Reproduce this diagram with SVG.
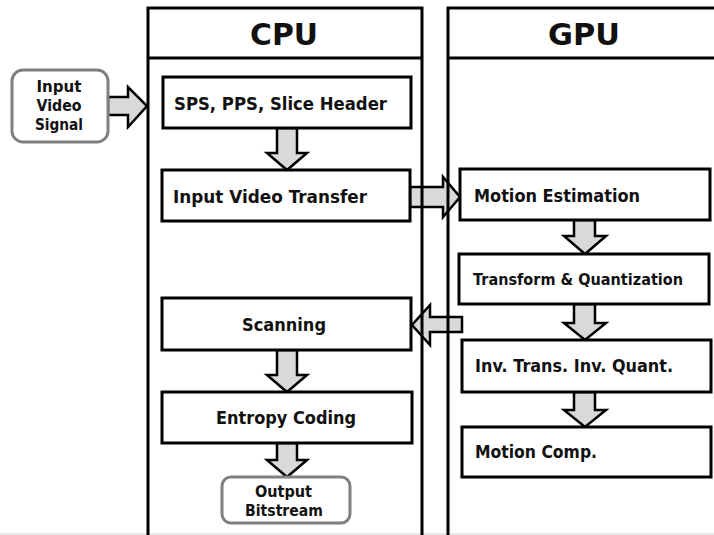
<svg xmlns="http://www.w3.org/2000/svg" width="714" height="535" viewBox="0 0 714 535">
<style>
.bg{fill:#ffffff}
.panel{fill:none;stroke:#000;stroke-width:3}
.box rect{fill:#fff;stroke:#000;stroke-width:3}
.term rect{fill:#fff;stroke:#808080;stroke-width:3}
.arrow{fill:#d9d9d9;stroke:#000;stroke-width:2.5;stroke-linejoin:miter}
text{font-family:"DejaVu Sans","Liberation Sans",sans-serif;font-weight:bold;fill:#111}
.t16{font-size:17px}
.t14{font-size:15px}
.t15{font-size:15px}
.title{font-size:31px;text-anchor:middle}
.mid{text-anchor:middle}
</style>
<rect class="bg" x="0" y="0" width="714" height="535"/>
<line x1="0" y1="534" x2="714" y2="534" stroke="#d0d0d0" stroke-width="1"/>

<g id="connectors">
<polygon class="arrow" points="108,97 128,97 128,87 147,106 128,127 128,115 108,115"/>
<polygon class="arrow" points="277,128 297,128 297,153 307,153 287,170 267,153 277,153"/>
<polygon class="arrow" points="410,187 443,187 443,177 460,197 443,217 443,207 410,207"/>
<polygon class="arrow" points="574,220 595,220 595,236 606,236 585,254 564,236 574,236"/>
<polygon class="arrow" points="574,304 595,304 595,323 606,323 585,340 564,323 574,323"/>
<polygon class="arrow" points="574,392 595,392 595,410 606,410 585,427 564,410 574,410"/>
<polygon class="arrow" points="462,317 430,317 430,305 412,325 430,345 430,332 462,332"/>
<polygon class="arrow" points="277,350 297,350 297,375 307,375 287,392 267,375 277,375"/>
<polygon class="arrow" points="277,443 297,443 297,460 307,460 287,477 267,460 277,460"/>
</g>

<g id="cpu">
<path class="panel" d="M148,540 V8 H422 V540 M148,58 H422"/>
<text class="title" x="284" y="45" textLength="68" lengthAdjust="spacingAndGlyphs">CPU</text>
</g>
<g id="gpu">
<path class="panel" d="M448,540 V8 H720 M448,58 H720"/>
<text class="title" x="584" y="45" textLength="72" lengthAdjust="spacingAndGlyphs">GPU</text>
</g>

<g id="input" class="term">
<rect x="12" y="70" width="96" height="72" rx="11"/>
<text class="t14 mid" x="59" y="92" textLength="45" lengthAdjust="spacingAndGlyphs">Input</text>
<text class="t14 mid" x="59" y="111" textLength="45" lengthAdjust="spacingAndGlyphs">Video</text>
<text class="t14 mid" x="59" y="130" textLength="48" lengthAdjust="spacingAndGlyphs">Signal</text>
</g>

<g id="sps" class="box">
<rect x="163" y="77" width="248" height="51"/>
<text class="t16" x="174" y="110" textLength="213" lengthAdjust="spacingAndGlyphs">SPS, PPS, Slice Header</text>
</g>
<g id="ivt" class="box">
<rect x="162" y="170" width="248" height="51"/>
<text class="t16" x="173" y="203" textLength="194" lengthAdjust="spacingAndGlyphs">Input Video Transfer</text>
</g>
<g id="scanning" class="box">
<rect x="162" y="298" width="249" height="52"/>
<text class="t16" x="242" y="331" textLength="84" lengthAdjust="spacingAndGlyphs">Scanning</text>
</g>
<g id="entropy" class="box">
<rect x="162" y="392" width="250" height="51"/>
<text class="t16" x="216" y="424" textLength="140" lengthAdjust="spacingAndGlyphs">Entropy Coding</text>
</g>
<g id="output" class="term">
<rect x="222" y="477" width="128" height="46" rx="9"/>
<text class="t14" x="255" y="497" textLength="57" lengthAdjust="spacingAndGlyphs">Output</text>
<text class="t14" x="245" y="516" textLength="78" lengthAdjust="spacingAndGlyphs">Bitstream</text>
</g>

<g id="me" class="box">
<rect x="460" y="169" width="250" height="51"/>
<text class="t16" x="474" y="202" textLength="166" lengthAdjust="spacingAndGlyphs">Motion Estimation</text>
</g>
<g id="tq" class="box">
<rect x="459" y="254" width="250" height="50"/>
<text class="t15" x="473" y="285" textLength="210" lengthAdjust="spacingAndGlyphs">Transform  &amp; Quantization</text>
</g>
<g id="inv" class="box">
<rect x="462" y="340" width="249" height="52"/>
<text class="t16" x="475" y="372" textLength="198" lengthAdjust="spacingAndGlyphs">Inv. Trans. Inv. Quant.</text>
</g>
<g id="mc" class="box">
<rect x="462" y="427" width="249" height="50"/>
<text class="t16" x="475" y="458" textLength="122" lengthAdjust="spacingAndGlyphs">Motion Comp.</text>
</g>
</svg>
